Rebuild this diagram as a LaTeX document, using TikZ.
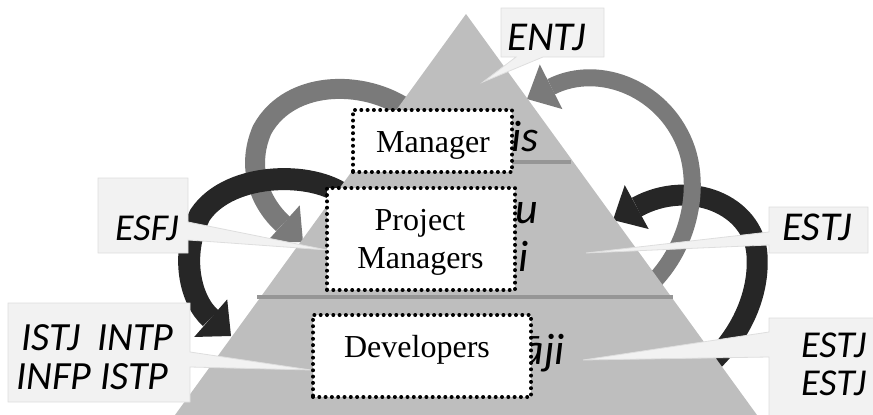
\documentclass[tikz,border=0pt]{standalone}
\usepackage{fontspec}
\setmainfont{Liberation Serif}
\newfontfamily\callfont{Carlito}
\usetikzlibrary{arrows.meta}
\definecolor{tri}{RGB}{190,190,190}
\definecolor{garrow}{RGB}{122,122,122}
\definecolor{darrow}{RGB}{38,38,38}
\definecolor{callfill}{RGB}{242,242,242}
\definecolor{calledge}{RGB}{222,222,222}
\definecolor{divline}{RGB}{150,150,150}
\begin{document}
\begin{tikzpicture}[x=1pt,y=-1pt,
  band/.style={line width=20pt, -{Triangle[length=27pt,width=50pt,line width=0pt]}},
  dotbox/.style={fill=white, draw=black, line width=4pt, dash pattern=on 0pt off 6.3pt, line cap=round, inner sep=0pt},
  callout/.style={fill=callfill, draw=calledge, line width=0.8pt, line join=miter},
  calltext/.style={font=\callfont\itshape\fontsize{40}{40}\selectfont, inner sep=0pt, anchor=base west},
  boxtext/.style={font=\fontsize{32}{38}\selectfont, inner sep=0pt, anchor=base},
  fragtext/.style={font=\callfont\itshape\fontsize{44}{44}\selectfont, inner sep=0pt, anchor=base east}
]
\useasboundingbox (0,0) rectangle (873,415);

% curved block arrows (behind the pyramid)
\draw[band, garrow] (415,115) .. controls (370,78) and (290,78) .. (262,130)
   .. controls (245,170) and (262,205) .. (303,242);
\draw[band, darrow, line width=22pt] (350,200) .. controls (320,170) and (230,170) .. (200,215)
   .. controls (180,255) and (190,300) .. (231,336);
\draw[band, darrow, line width=21pt] (700,372) .. controls (735,345) and (760,300) .. (757,255)
   .. controls (754,205) and (690,178) .. (613,220);
\draw[band, garrow, line width=17pt] (645,290) .. controls (690,250) and (700,190) .. (687,150)
   .. controls (667,90) and (600,62) .. (527,99);

% pyramid
\fill[tri] (466,14) -- (757,415) -- (175,415) -- cycle;
\draw[divline, line width=4pt] (359,162) -- (571,162);
\draw[divline, line width=4pt] (257,297) -- (673,297);

% partly hidden level texts
\node[fragtext] (fis) at (539,151) {is};
\node[fragtext] (fu) at (538,223) {u};
\node[fragtext] (fi) at (529,271) {i};
\node[fragtext] (faji) at (565,364) {āji};

% dotted boxes
\node[dotbox, minimum width=159pt, minimum height=62pt] (mgrbox) at (432.5,141) {};
\node[boxtext] (mgr) at (433,152) {Manager};
\node[dotbox, minimum width=188pt, minimum height=102pt] (pmbox) at (421,239) {};
\node[boxtext] (pma) at (420,230) {Project};
\node[boxtext] (pmb) at (420.5,268) {Managers};
\node[dotbox, minimum width=218pt, minimum height=82pt] (devbox) at (422,356) {};
\node[boxtext] (dev) at (417,357) {Developers};

% callouts
\draw[callout] (501,8) -- (604,8) -- (604,57) -- (543,57) -- (483,82) -- (516,57) -- (501,57) -- cycle;
\node[calltext, font=\callfont\itshape\fontsize{41}{41}\selectfont] (entj) at (507,50) {ENTJ};

\draw[callout] (98,178) -- (188,178) -- (188,222) -- (327,250) -- (188,240) -- (188,253) -- (98,253) -- cycle;
\node[calltext, font=\callfont\itshape\fontsize{38}{38}\selectfont] (esfj) at (115,240) {ESFJ};

\draw[callout] (8,303) -- (190,303) -- (190,352) -- (311,370) -- (190,367) -- (190,402) -- (8,402) -- cycle;
\node[calltext] (istj) at (21,350) {ISTJ\hspace{17pt}INTP};
\node[calltext] (infp) at (16,389) {INFP ISTP};

\draw[callout] (769,207) -- (868,207) -- (868,253) -- (769,253) -- (769,245) -- (586,253) -- (769,232) -- cycle;
\node[calltext, font=\callfont\itshape\fontsize{41}{41}\selectfont] (estja) at (782,240) {ESTJ};

\draw[callout] (769,318) -- (880,318) -- (880,416) -- (769,416) -- (769,357) -- (583,360) -- (769,332) -- cycle;
\node[calltext, font=\callfont\itshape\fontsize{38}{38}\selectfont] (estjb) at (801,357) {ESTJ};
\node[calltext, font=\callfont\itshape\fontsize{38}{38}\selectfont] (estjc) at (801,395) {ESTJ};
\end{tikzpicture}
\end{document}
